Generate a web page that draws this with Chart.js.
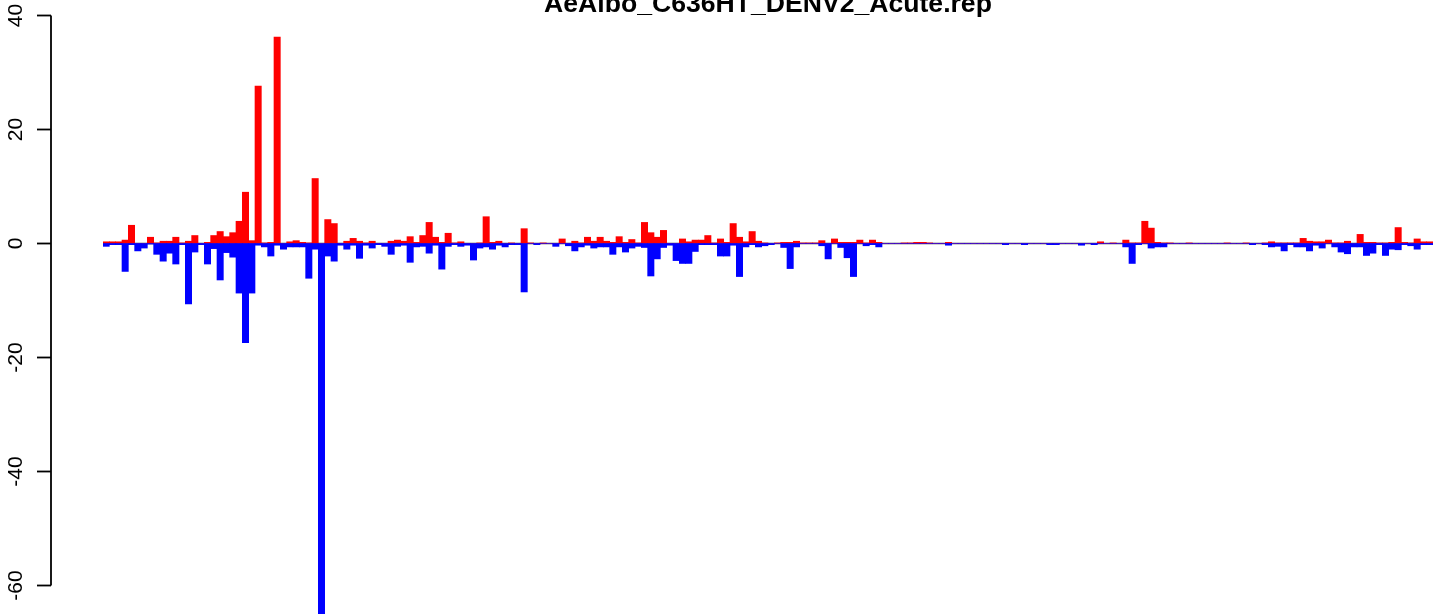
<!DOCTYPE html>
<html><head><meta charset="utf-8">
<script src="https://cdn.jsdelivr.net/npm/chart.js@4/dist/chart.umd.min.js"></script>
<style>html,body{margin:0;padding:0;background:#fff;overflow:hidden}canvas{display:block}</style>
</head><body>
<canvas id="c" width="1433" height="614"></canvas>
<script>
const chartTitle = "AeAlbo_C636HT_DENV2_Acute.rep";

const positive = [
  0.3,0.3,0.3,0.6,3.2,0,0,1.1,0.1,0.4, 0.4,1.1,0.1,0.4,1.4,0,0.2,1.4,2.1,1.2,
  1.9,3.9,9.0,0.5,27.6,0.1,0.2,36.2,0,0.3, 0.5,0.2,0.1,11.4,0,4.2,3.5,0,0.4,0.9,
  0.4,0.1,0.4,0,0,0.4,0.6,0.4,1.2,0.2, 1.4,3.7,1.1,0.2,1.8,0.1,0.3,0,0,0.1,
  4.7,0.2,0.4,0,0.1,0,2.6,0.1,0,0.1, 0,0,0.8,0,0.4,0.1,1.1,0.4,1.1,0.4,
  0.2,1.2,0.2,0.7,0.1,3.7,1.9,1.1,2.3,0, 0,0.8,0.3,0.6,0.6,1.4,0.1,0.8,0.2,3.5,
  1.1,0.3,2.1,0.4,0.1,0,0.1,0.2,0.2,0.4, 0.1,0.1,0.1,0.5,0,0.8,0.2,0.2,0.2,0.6,
  0.1,0.6,0.2,0,0,0,0.1,0.1,0.2,0.2, 0.1,0,0,0.2,0,0,0,0,0,0,
  0,0,0,0,0,0,0,0,0,0, 0,0,0,0,0,0,0,0.3,0,0.1,
  0,0.6,0.1,0.1,3.9,2.7,0.2,0.1,0.1,0, 0,0.1,0,0,0,0,0,0.1,0,0,
  0.1,0,0,0.1,0.3,0.1,0.1,0.1,0.1,0.9, 0.4,0.3,0.3,0.6,0.1,0.1,0.4,0,1.6,0.2,
  0.2,0.1,0.1,0.2,2.8,0.2,0.1,0.8,0.3,0.3
];

const negative = [
  -0.5,-0.2,-0.2,-4.9,-0.2,-1.3,-0.8,-0.1,-1.9,-3.1, -1.7,-3.6,-0.2,-10.6,-1.5,-0.2,-3.6,-0.9,-6.4,-1.6,
  -2.4,-8.7,-17.4,-8.7,-0.3,-0.6,-2.2,-0.3,-1.0,-0.6, -0.6,-0.6,-6.1,-1.0,-66,-2.2,-3.1,-0.3,-1.0,-0.3,
  -2.6,-0.3,-0.8,-0.2,-0.5,-1.9,-0.5,-0.3,-3.3,-0.6, -0.5,-1.7,-0.3,-4.5,-0.5,-0.2,-0.5,-0.3,-2.9,-0.8,
  -0.6,-1.0,-0.3,-0.6,-0.2,-0.2,-8.5,0,-0.2,0, 0,-0.5,0,-0.4,-1.3,-0.6,-0.3,-0.8,-0.6,-0.6,
  -1.9,-0.6,-1.5,-0.8,-0.5,-0.7,-5.7,-2.7,-0.7,-0.3, -3.0,-3.5,-3.5,-1.4,-0.2,-0.2,-0.2,-2.2,-2.2,-0.3,
  -5.8,-0.6,-0.2,-0.6,-0.4,-0.2,0,-0.7,-4.4,-0.6, 0,0,0,-0.4,-2.7,0,-0.7,-2.5,-5.8,0,
  -0.4,-0.2,-0.6,0,0,0,0,0,0,0, 0,0,0,-0.3,0,0,0,0,0,0,
  0,0,-0.2,0,0,-0.2,0,0,0,-0.2, -0.2,0,0,0,-0.3,0,-0.2,0,0,0,
  0,-0.6,-3.5,-0.2,0,-0.8,-0.6,-0.6,0,0, 0,0,0,0,0,0,0,0,0,0,
  0,-0.2,0,-0.2,-0.6,-0.5,-1.3,-0.2,-0.6,-0.6, -1.3,-0.3,-0.8,0,-0.6,-1.5,-1.8,-0.6,-0.6,-2.1,
  -1.7,-0.2,-2.1,-1.0,-1.1,-0.2,-0.4,-1.0,-0.2,-0.2
];

const categories = positive.map((_, i) => String(i + 1));
const yTickValues = [-60, -40, -20, 0, 20, 40];
const yTickLabels = ["-60", "-40", "-20", "0", "20", "40"];

const decor = {
  id: 'decor',
  beforeDatasetsDraw(chart) {
    const ctx = chart.ctx, y = chart.scales.y, a = chart.chartArea;
    const y0 = y.getPixelForValue(0);
    ctx.save();
    ctx.strokeStyle = '#A0A0A0';
    ctx.lineWidth = 2;
    ctx.beginPath();
    ctx.moveTo(a.left, y0);
    ctx.lineTo(a.right, y0);
    ctx.stroke();
    ctx.restore();
  },
  afterDraw(chart) {
    const ctx = chart.ctx, y = chart.scales.y;
    const axisX = 51;
    ctx.save();
    ctx.strokeStyle = '#000';
    ctx.lineWidth = 1.8;
    ctx.beginPath();
    ctx.moveTo(axisX, y.getPixelForValue(yTickValues[yTickValues.length - 1]));
    ctx.lineTo(axisX, y.getPixelForValue(yTickValues[0]));
    ctx.stroke();
    ctx.fillStyle = '#000';
    ctx.font = '21px "Liberation Sans", Arial, sans-serif';
    ctx.textAlign = 'center';
    ctx.textBaseline = 'alphabetic';
    yTickValues.forEach((v, i) => {
      const py = y.getPixelForValue(v);
      ctx.beginPath();
      ctx.moveTo(axisX, py);
      ctx.lineTo(axisX - 14, py);
      ctx.stroke();
      ctx.save();
      ctx.translate(22, py);
      ctx.rotate(-Math.PI / 2);
      ctx.fillText(yTickLabels[i], 0, 0);
      ctx.restore();
    });
    ctx.font = 'bold 26.6px "Liberation Sans", Arial, sans-serif';
    ctx.textAlign = 'center';
    ctx.fillText(chartTitle, 768, 12);
    ctx.restore();
  }
};

new Chart(document.getElementById('c'), {
  type: 'bar',
  data: {
    labels: categories,
    datasets: [
      { label: 'negative', data: negative, backgroundColor: '#0000FF', borderWidth: 0,
        grouped: false, barPercentage: 1, categoryPercentage: 1 },
      { label: 'positive', data: positive, backgroundColor: '#FF0000', borderWidth: 0,
        grouped: false, barPercentage: 1, categoryPercentage: 1 }
    ]
  },
  options: {
    responsive: false,
    animation: false,
    devicePixelRatio: 1,
    layout: { padding: { left: 103, right: 0, top: 0, bottom: 0 } },
    scales: {
      x: { display: false, offset: true },
      y: { display: false, min: -65, max: 42.72 }
    },
    plugins: { legend: { display: false }, tooltip: { enabled: false }, title: { display: false } }
  },
  plugins: [decor]
});
</script>
</body></html>
